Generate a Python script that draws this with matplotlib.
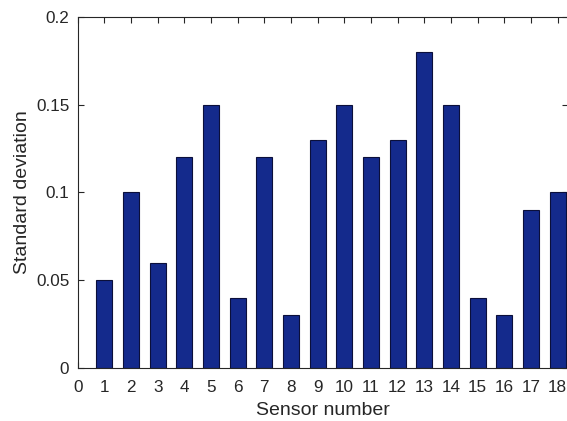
import matplotlib
matplotlib.use("Agg")
import matplotlib.pyplot as plt
import numpy as np

sensors = list(range(1, 19))
std_dev = [0.05, 0.10, 0.06, 0.12, 0.15, 0.04, 0.12, 0.03, 0.13,
           0.15, 0.12, 0.13, 0.18, 0.15, 0.04, 0.03, 0.09, 0.10]
xticks = list(range(0, 19))
yticks = [0, 0.05, 0.1, 0.15, 0.2]
ytick_labels = ["0", "0.05", "0.1", "0.15", "0.2"]

plt.rcParams['font.family'] = ['Liberation Sans', 'DejaVu Sans']

fig = plt.figure(figsize=(5.67, 4.21), dpi=100)
ax = fig.add_axes([0.137, 0.126, 0.8655, 0.834])
ax.bar(sensors, std_dev, width=0.6, color='#142a8c', edgecolor='#0b0f3a', linewidth=0.8, zorder=2)
ax.set_xlim(0, 18.4)
ax.set_ylim(0, 0.2)
ax.set_xticks(xticks)
ax.set_yticks(yticks)
ax.set_yticklabels(ytick_labels)
ax.tick_params(direction='in', top=True, right=True, length=4, width=0.8,
               labelsize=12.3, colors='#262626')
ax.tick_params(axis='x', pad=9)
ax.tick_params(axis='y', pad=6)
for s in ax.spines.values():
    s.set_linewidth(0.8)
    s.set_color('#262626')
ax.set_xlabel('Sensor number', fontsize=14, color='#262626', labelpad=5)
ax.set_ylabel('Standard deviation', fontsize=14, color='#262626', labelpad=4)
fig.savefig('out.png', dpi=100)
